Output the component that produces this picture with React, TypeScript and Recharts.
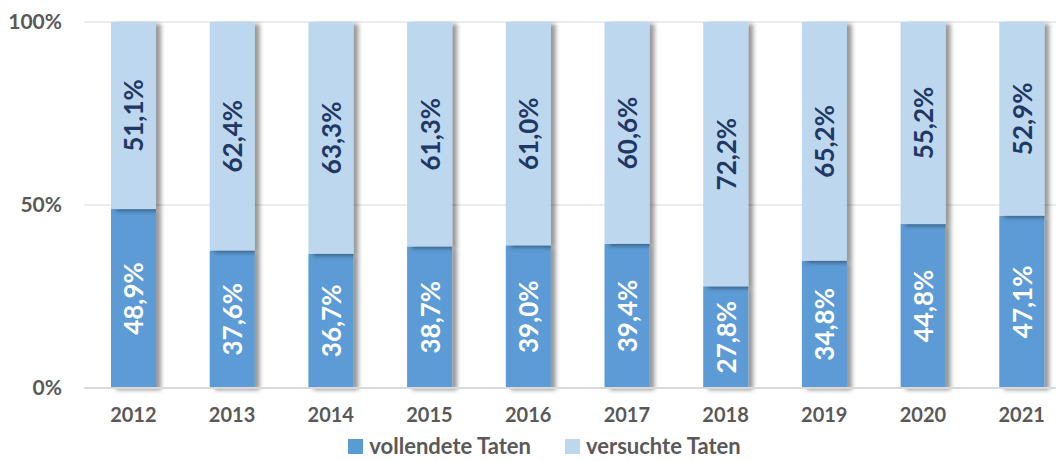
import React from 'react';
import { BarChart, Bar, XAxis, YAxis, CartesianGrid, Legend, LabelList } from 'recharts';

const years = ['2012', '2013', '2014', '2015', '2016', '2017', '2018', '2019', '2020', '2021'];
const vollendete = [48.9, 37.6, 36.7, 38.7, 39.0, 39.4, 27.8, 34.8, 44.8, 47.1];
const versuchte = [51.1, 62.4, 63.3, 61.3, 61.0, 60.6, 72.2, 65.2, 55.2, 52.9];
const yTicks = [0, 50, 100];

const data = years.map((year, i) => ({ year, vollendete: vollendete[i], versuchte: versuchte[i] }));

const FONT = 'Lato, "Open Sans", sans-serif';
const DARK = '#5B9BD5';
const LIGHT = '#BDD7EE';

const fmt = (v: number) => v.toFixed(1).replace('.', ',') + '%';

const ShadowRect = (props: any) => {
  const { x, y, width, height, fill } = props;
  return <rect x={x} y={y} width={width} height={height} fill={fill} filter="url(#barShadow)" />;
};

const makeLabel = (color: string) => (props: any) => {
  const { x, y, width, height, value } = props;
  const cx = x + width / 2;
  const cy = y + height / 2;
  return (
    <text
      x={cx}
      y={cy}
      transform={`rotate(-90 ${cx} ${cy})`}
      textAnchor="middle"
      dominantBaseline="central"
      fill={color}
      fontFamily={FONT}
      fontWeight={700}
      fontSize={26}
    >
      {fmt(value)}
    </text>
  );
};

const renderLegend = () => (
  <div
    style={{
      display: 'flex',
      justifyContent: 'center',
      gap: 34,
      fontFamily: FONT,
      fontWeight: 700,
      fontSize: 22,
      color: '#595959',
      paddingLeft: 18,
      paddingTop: 15,
      lineHeight: '26px',
    }}
  >
    {[
      { name: 'vollendete Taten', color: DARK },
      { name: 'versuchte Taten', color: LIGHT },
    ].map((item) => (
      <div key={item.name} style={{ display: 'flex', alignItems: 'center' }}>
        <span style={{ width: 15, height: 15, background: item.color, marginRight: 6, display: 'inline-block' }} />
        <span>{item.name}</span>
      </div>
    ))}
  </div>
);

export default function App() {
  return (
    <div style={{ position: 'absolute', left: 0, top: 0, width: 1056, height: 461, overflow: 'hidden', background: '#fff' }}>
      <BarChart width={1075} height={461} data={data} margin={{ top: 22, right: 4, bottom: 0, left: 0 }}>
        <defs>
          <filter id="barShadow" x="-20%" y="-5%" width="160%" height="115%">
            <feDropShadow dx={5} dy={2} stdDeviation={2.2} floodColor="#000" floodOpacity={0.4} />
          </filter>
        </defs>
        <CartesianGrid vertical={false} stroke="#D9D9D9" />
        <XAxis
          dataKey="year"
          height={30}
          tickLine={false}
          axisLine={{ stroke: '#D9D9D9', strokeWidth: 2 }}
          tickMargin={14}
          tick={{ fill: '#595959', fontFamily: FONT, fontWeight: 700, fontSize: 20 }}
        />
        <YAxis
          width={84}
          domain={[0, 100]}
          ticks={yTicks}
          tickFormatter={(v: number) => `${v}%`}
          tickLine={false}
          axisLine={false}
          tickSize={0}
          tickMargin={22}
          tick={{ fill: '#595959', fontFamily: FONT, fontWeight: 700, fontSize: 21 }}
        />
        <Legend height={43} verticalAlign="bottom" content={renderLegend} />
        <Bar dataKey="vollendete" name="vollendete Taten" stackId="a" fill={DARK} barSize={45} shape={ShadowRect} isAnimationActive={false}>
          <LabelList dataKey="vollendete" content={makeLabel('#FFFFFF')} />
        </Bar>
        <Bar dataKey="versuchte" name="versuchte Taten" stackId="a" fill={LIGHT} barSize={45} shape={ShadowRect} isAnimationActive={false}>
          <LabelList dataKey="versuchte" content={makeLabel('#1F3864')} />
        </Bar>
      </BarChart>
    </div>
  );
}
